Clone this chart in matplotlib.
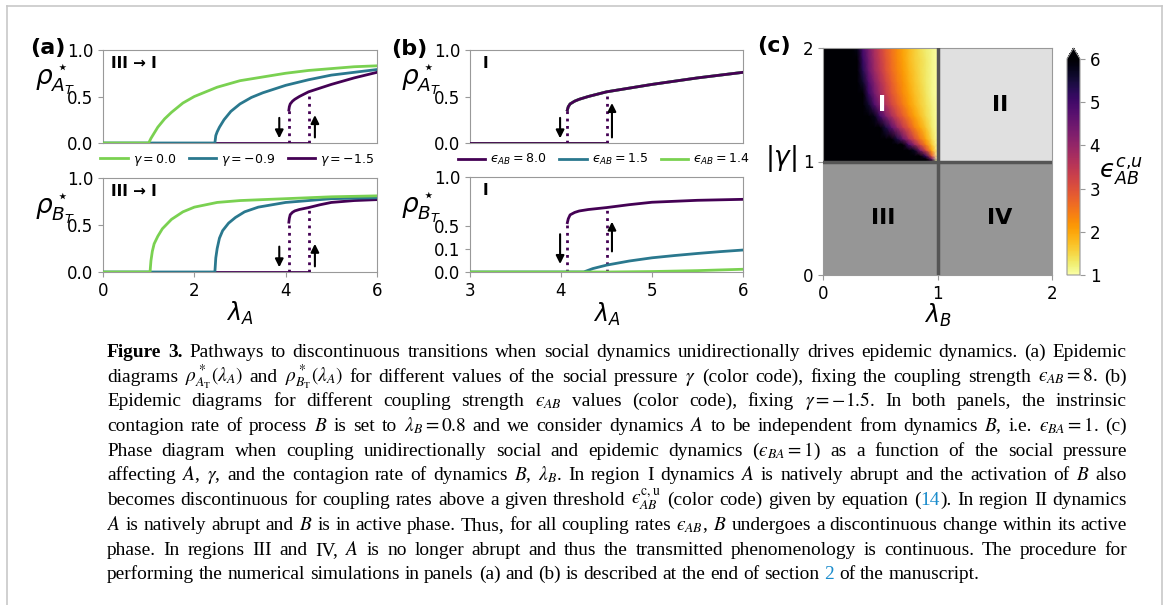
import re
import numpy as np
import matplotlib
matplotlib.use("Agg")
import matplotlib.pyplot as plt
from matplotlib.lines import Line2D

# ---- data ----
# (a) gamma = 0.0 and gamma = -0.9, eps_AB = 8
lamA_g0 = [0, 1.0, 1.05, 1.1, 1.2, 1.35, 1.5, 1.75, 2.0, 2.5, 3.0, 3.5, 4.0, 4.5, 5.0, 5.5, 6.0]
rhoA_g0 = [0, 0, 0.05, 0.09, 0.17, 0.26, 0.33, 0.43, 0.50, 0.60, 0.67, 0.71, 0.75, 0.78, 0.80, 0.82, 0.83]
lamB_g0 = [0, 1.03, 1.05, 1.08, 1.12, 1.2, 1.3, 1.5, 1.75, 2.0, 2.5, 3.0, 4.0, 5.0, 6.0]
rhoB_g0 = [0, 0, 0.12, 0.22, 0.30, 0.38, 0.46, 0.56, 0.64, 0.69, 0.74, 0.76, 0.78, 0.80, 0.81]

lamA_g09 = [0, 2.45, 2.47, 2.5, 2.55, 2.65, 2.8, 3.0, 3.25, 3.5, 4.0, 4.5, 5.0, 5.5, 6.0]
rhoA_g09 = [0, 0, 0.08, 0.12, 0.17, 0.25, 0.34, 0.42, 0.49, 0.54, 0.62, 0.68, 0.73, 0.76, 0.79]
lamB_g09 = [0, 2.45, 2.47, 2.5, 2.55, 2.62, 2.75, 2.9, 3.1, 3.4, 4.0, 4.5, 5.0, 6.0]
rhoB_g09 = [0, 0, 0.15, 0.25, 0.36, 0.44, 0.52, 0.58, 0.64, 0.69, 0.74, 0.76, 0.78, 0.79]

# gamma = -1.5, eps_AB = 8 (shared by (a) and (b)); lower and upper branch
lam_low = [0, 4.5]
rho_low = [0, 0]
lam_up = [4.07, 4.08, 4.1, 4.15, 4.2, 4.3, 4.5, 4.75, 5.0, 5.5, 6.0]
rhoA_up = [0.355, 0.39, 0.42, 0.45, 0.47, 0.50, 0.55, 0.59, 0.63, 0.70, 0.76]
rhoB_up = [0.53, 0.57, 0.61, 0.635, 0.65, 0.665, 0.685, 0.715, 0.74, 0.76, 0.77]

# (b) eps_AB = 1.5 and 1.4, gamma = -1.5
lam_e15 = [3.0, 4.25, 4.35, 4.5, 4.75, 5.0, 5.25, 5.5, 5.75, 6.0]
rhoB_e15 = [0, 0, 0.015, 0.03, 0.048, 0.062, 0.072, 0.081, 0.089, 0.096]
lam_e14 = [3.0, 4.5, 5.0, 5.5, 6.0]
rhoB_e14 = [0, 0, 0.002, 0.006, 0.012]

# (c) threshold eps_AB^{c,u} in region I (values > 6 shown black)
lamB_c = 1.0
gamma_c = 1.0
lamB_grid = [0, 0.05, 0.1, 0.15, 0.2, 0.25, 0.3, 0.35, 0.4, 0.45, 0.5,
             0.55, 0.6, 0.65, 0.7, 0.75, 0.8, 0.85, 0.9, 0.95, 1.0]
gamma_grid = [1.0, 1.025, 1.05, 1.1, 1.15, 1.2, 1.3, 1.4, 1.5, 1.6, 1.7, 1.8, 1.9, 2.0]
eps_rows = [
    [7] * 20 + [1.0],
    [7] * 19 + [4.5, 1.0],
    [7] * 18 + [5.1, 2.95, 1.0],
    [7] * 16 + [5.7, 4.35, 3.1, 2.0, 1.0],
    [7] * 14 + [6.0, 4.9, 3.95, 3.1, 2.35, 1.65, 1.0],
    [7] * 12 + [6.4, 5.4, 4.55, 3.75, 3.1, 2.5, 1.95, 1.45, 1.0],
    [7] * 10 + [6.4, 5.45, 4.7, 4.0, 3.4, 2.9, 2.4, 2.0, 1.65, 1.3, 1.0],
    [7] * 8 + [6.8, 5.8, 5.0, 4.3, 3.75, 3.2, 2.8, 2.4, 2.05, 1.75, 1.45, 1.25, 1.0],
    [7] * 7 + [6.6, 5.6, 4.85, 4.2, 3.65, 3.2, 2.8, 2.45, 2.1, 1.85, 1.6, 1.4, 1.2, 1.0],
    [7] * 7 + [6.0, 5.1, 4.4, 3.85, 3.35, 2.95, 2.6, 2.25, 2.0, 1.75, 1.55, 1.35, 1.15, 1.0],
    [7] * 6 + [6.6, 5.6, 4.8, 4.2, 3.65, 3.2, 2.8, 2.45, 2.2, 1.9, 1.7, 1.5, 1.3, 1.15, 1.0],
    [7] * 6 + [6.2, 5.3, 4.5, 3.9, 3.45, 3.0, 2.65, 2.35, 2.1, 1.85, 1.65, 1.45, 1.3, 1.15, 1.0],
    [7] * 6 + [6.0, 5.1, 4.4, 3.8, 3.35, 2.95, 2.6, 2.3, 2.05, 1.8, 1.6, 1.45, 1.3, 1.15, 1.0],
    [7] * 5 + [6.9, 5.8, 4.9, 4.3, 3.7, 3.25, 2.85, 2.55, 2.25, 2.0, 1.8, 1.6, 1.4, 1.25, 1.15, 1.0],
]

caption_lines = [
    r"**Figure** **3.** Pathways to discontinuous transitions when social dynamics unidirectionally drives epidemic dynamics. (a) Epidemic",
    r"diagrams $\rho^*_{A_\mathrm{T}}(\lambda_A)$ and $\rho^*_{B_\mathrm{T}}(\lambda_A)$ for different values of the social pressure $\gamma$ (color code), fixing the coupling strength $ϵ_{AB}=8$. (b)",
    r"Epidemic diagrams for different coupling strength $ϵ_{AB}$ values (color code), fixing $\gamma=-1.5$. In both panels, the instrinsic",
    r"contagion rate of process $B$ is set to $\lambda_B=0.8$ and we consider dynamics $A$ to be independent from dynamics $B$, i.e. $ϵ_{BA}=1$. (c)",
    r"Phase diagram when coupling unidirectionally social and epidemic dynamics ($ϵ_{BA}=1$) as a function of the social pressure",
    r"affecting $A$, $\gamma$, and the contagion rate of dynamics $B$, $\lambda_B$. In region I dynamics $A$ is natively abrupt and the activation of $B$ also",
    r"becomes discontinuous for coupling rates above a given threshold $ϵ_{AB}^{\mathrm{c,u}}$ (color code) given by equation ({{14}}). In region II dynamics",
    r"$A$ is natively abrupt and $B$ is in active phase. Thus, for all coupling rates $ϵ_{AB}$, $B$ undergoes a discontinuous change within its active",
    r"phase. In regions III and IV, $A$ is no longer abrupt and thus the transmitted phenomenology is continuous. The procedure for",
    r"performing the numerical simulations in panels (a) and (b) is described at the end of section {{2}} of the manuscript.",
]

GREEN = "#7ad151"
TEAL = "#2a788e"
PURPLE = "#440154"
LINK = "#1a8ccc"
W, H = 1167, 605


def box(l, t, r, b):
    return [l / W, 1 - b / H, (r - l) / W, (b - t) / H]


def style(ax):
    for s in ax.spines.values():
        s.set_color("0.6")
    ax.tick_params(color="0.6", labelsize=12)


def branch(ax, lam_up_, rho_up_):
    ax.plot(lam_low, rho_low, color=PURPLE, lw=2, zorder=3)
    ax.plot(lam_up_, rho_up_, color=PURPLE, lw=2, zorder=3)
    ax.plot([lam_up_[0]] * 2, [0, rho_up_[0]], ls=":", color=PURPLE, lw=2, zorder=3)
    i = lam_up_.index(lam_low[-1])
    ax.plot([lam_low[-1]] * 2, [0, rho_up_[i]], ls=":", color=PURPLE, lw=2, zorder=3)


def arrow(ax, x, y0, y1):
    ax.annotate("", xy=(x, y1), xytext=(x, y0),
                arrowprops=dict(arrowstyle="-|>", color="k", lw=1.5,
                                mutation_scale=12, shrinkA=0, shrinkB=0))


fig = plt.figure(figsize=(W / 100, H / 100), dpi=100)

# ---------------- panel (a) ----------------
ax1 = fig.add_axes(box(103, 50, 377, 143))
ax2 = fig.add_axes(box(103, 178, 377, 272))
for ax, (xg, yg), (xt, yt), rup, lab in [
    (ax1, (lamA_g0, rhoA_g0), (lamA_g09, rhoA_g09), rhoA_up, r"$\rho^\star_{A_T}$"),
    (ax2, (lamB_g0, rhoB_g0), (lamB_g09, rhoB_g09), rhoB_up, r"$\rho^\star_{B_T}$"),
]:
    ax.plot(xg, yg, color=GREEN, lw=2, zorder=3.2, label=r"$\gamma=0.0$")
    ax.plot(xt, yt, color=TEAL, lw=2, zorder=3.1, label=r"$\gamma=-0.9$")
    branch(ax, lam_up, rup)
    ax.lines[2].set_label(r"$\gamma=-1.5$")
    arrow(ax, 3.86, 0.27, 0.05)
    arrow(ax, 4.64, 0.06, 0.30)
    ax.set_xlim(0, 6)
    ax.set_ylim(0, 1)
    ax.set_yticks([0, 0.5, 1.0])
    ax.set_ylabel(lab, rotation=0, fontsize=19, ha="center", va="center")
    ax.yaxis.set_label_coords(-0.175, 0.68)
    ax.text(0.03, 0.86, "III → I", transform=ax.transAxes, fontsize=11,
            fontweight="bold", va="center")
    style(ax)
ax1.tick_params(bottom=False, labelbottom=False)
ax2.set_xticks([0, 2, 4, 6])
ax2.set_xlabel(r"$\lambda_A$", fontsize=17)
ax2.xaxis.set_label_coords(0.5, -0.30)
ax1.legend(loc="center", bbox_to_anchor=(0.49, -0.18), ncol=3, frameon=False,
           fontsize=9, handlelength=2.2, columnspacing=1.0, handletextpad=0.4,
           borderaxespad=0)

# ---------------- panel (b) ----------------
ax3 = fig.add_axes(box(470, 50, 743, 143))
ax4 = fig.add_axes(box(470, 177, 743, 272))

ax3.plot(lam_low, rho_low, color=PURPLE, lw=2, zorder=3, label=r"$ϵ_{AB}=8.0$")
ax3.plot(lam_up, rhoA_up, color=PURPLE, lw=2, zorder=3)
ax3.plot(lam_low, rho_low, color=TEAL, lw=2, zorder=2, label=r"$ϵ_{AB}=1.5$")
ax3.plot(lam_up, rhoA_up, color=TEAL, lw=2, zorder=2)
ax3.plot(lam_low, rho_low, color=GREEN, lw=2, zorder=2, label=r"$ϵ_{AB}=1.4$")
ax3.plot(lam_up, rhoA_up, color=GREEN, lw=2, zorder=2)
ax3.plot([lam_up[0]] * 2, [0, rhoA_up[0]], ls=":", color=PURPLE, lw=2, zorder=3)
i45 = lam_up.index(lam_low[-1])
ax3.plot([lam_low[-1]] * 2, [0, rhoA_up[i45]], ls=":", color=PURPLE, lw=2, zorder=3)
arrow(ax3, 3.99, 0.27, 0.05)
arrow(ax3, 4.56, 0.06, 0.43)

branch(ax4, lam_up, rhoB_up)
ax4.plot(lam_e15, rhoB_e15, color=TEAL, lw=2, zorder=3.1)
ax4.plot(lam_e14, rhoB_e14, color=GREEN, lw=2, zorder=3.2)
arrow(ax4, 3.99, 0.165, 0.035)
arrow(ax4, 4.56, 0.09, 0.54)


def fwd(y):
    return np.interp(y, [0, 0.2, 0.5, 1.0], [0, 0.482, 0.489, 1.0])


def inv(y):
    return np.interp(y, [0, 0.482, 0.489, 1.0], [0, 0.2, 0.5, 1.0])


ax4.set_yscale("function", functions=(fwd, inv))
for ax, lab in [(ax3, r"$\rho^\star_{A_T}$"), (ax4, r"$\rho^\star_{B_T}$")]:
    ax.set_xlim(3, 6)
    ax.set_ylim(0, 1)
    ax.set_ylabel(lab, rotation=0, fontsize=19, ha="center", va="center")
    ax.yaxis.set_label_coords(-0.18, 0.68)
    ax.text(0.045, 0.86, "I", transform=ax.transAxes, fontsize=11,
            fontweight="bold", va="center")
    style(ax)
ax3.set_yticks([0, 0.5, 1.0])
ax4.set_yticks([0, 0.1, 0.5, 1.0])
ax4.set_yticklabels(["0.0", "0.1", "0.5", "1.0"])
ax4.yaxis.set_minor_locator(matplotlib.ticker.NullLocator())
ax3.tick_params(bottom=False, labelbottom=False)
ax4.set_xticks([3, 4, 5, 6])
ax4.set_xlabel(r"$\lambda_A$", fontsize=17)
ax4.xaxis.set_label_coords(0.5, -0.30)
h, l = ax3.get_legend_handles_labels()
ax3.legend(h, l, loc="center", bbox_to_anchor=(0.49, -0.18), ncol=3, frameon=False,
           fontsize=9, handlelength=2.2, columnspacing=1.0, handletextpad=0.4,
           borderaxespad=0)

# ---------------- panel (c) ----------------
ax5 = fig.add_axes(box(823, 48, 1052, 275))
eps = np.array(eps_rows, dtype=float)
im = ax5.pcolormesh(lamB_grid, gamma_grid, eps, cmap="inferno_r", vmin=1, vmax=6,
                    shading="gouraud", zorder=1)
ax5.fill_between([lamB_c, 2], gamma_c, 2, color="#e0e0e0", zorder=2, lw=0)
ax5.fill_between([0, 2], 0, gamma_c, color="#969696", zorder=2, lw=0)
ax5.axvline(lamB_c, color="#555555", lw=2.5, zorder=3)
ax5.axhline(gamma_c, color="#555555", lw=2.5, zorder=3)
ax5.set_xlim(0, 2)
ax5.set_ylim(0, 2)
ax5.set_xticks([0, 1, 2])
ax5.set_yticks([0, 1, 2])
for x, y, s, c in [(0.52, 1.5, "I", "w"), (1.55, 1.5, "II", "k"),
                   (0.53, 0.5, "III", "k"), (1.54, 0.5, "IV", "k")]:
    ax5.text(x, y, s, color=c, fontsize=16, fontweight="bold",
             ha="center", va="center", zorder=4)
ax5.set_ylabel(r"$|\gamma|$", rotation=0, fontsize=19, ha="center", va="center")
ax5.yaxis.set_label_coords(-0.185, 0.515)
ax5.set_xlabel(r"$\lambda_B$", fontsize=17)
ax5.xaxis.set_label_coords(0.5, -0.12)
style(ax5)

cax = fig.add_axes(box(1067, 48, 1080, 275))
cb = fig.colorbar(im, cax=cax, extend="max", ticks=[1, 2, 3, 4, 5, 6])
cb.outline.set_edgecolor("0.6")
cax.tick_params(labelsize=12, color="0.6")
fig.text(1121 / W, 1 - 172 / H, r"$ϵ_{AB}^{c{,}u}$", fontsize=18,
         ha="center", va="center")

# panel letters
for x, y, s in [(48, 48, "(a)"), (409, 49, "(b)"), (774, 46, "(c)")]:
    fig.text(x / W, 1 - y / H, s, fontsize=16, fontweight="bold",
             ha="center", va="center")

# frame around the figure block
for xs, ys in [([7, 7], [6, 620]), ([7, 1162], [6, 6]), ([1162, 1162], [6, 620])]:
    fig.add_artist(Line2D([x / W for x in xs], [1 - y / H for y in ys],
                          color="#c8c8c8", lw=1.2, transform=fig.transFigure))

# ---------------- caption (justified) ----------------
renderer = fig.canvas.get_renderer()
BASE_SIZE = 12.0
CAP_FONT = "Liberation Serif"


def split_words(line):
    out, cur, inmath = [], "", False
    for ch in line:
        if ch == "$":
            inmath = not inmath
        if ch == " " and not inmath:
            if cur:
                out.append(cur)
            cur = ""
        else:
            cur += ch
    if cur:
        out.append(cur)
    return out


def word_pieces(w):
    weight = "normal"
    if w.startswith("**") and w.endswith("**"):
        w = w[2:-2]
        weight = "bold"
    pieces = []
    for part in re.split(r"(\{\{.*?\}\})", w):
        if not part:
            continue
        if part.startswith("{{"):
            pieces.append((part[2:-2], LINK, weight))
        else:
            pieces.append((part, "k", weight))
    return pieces


def make_text(s, color, weight, size):
    return fig.text(0, 0, s, fontsize=size, family=CAP_FONT, color=color,
                    fontweight=weight, math_fontfamily="stix", va="baseline")


def width(t):
    return t.get_window_extent(renderer).width


def space_width(size):
    t = make_text("a a", "k", "normal", size)
    t2 = make_text("aa", "k", "normal", size)
    w = width(t) - width(t2)
    t.remove()
    t2.remove()
    return w


x_left, x_right = 107, 1127
base0, step = 357, 24.7
lines = [[[make_text(*p, BASE_SIZE) for p in word_pieces(w)] for w in split_words(ln)]
         for ln in caption_lines]

# pick the size that makes the tightest justified line fit with normal spaces
sp = space_width(BASE_SIZE)
ratios = []
for words in lines[:-1]:
    nat = sum(width(o) for objs in words for o in objs) + sp * (len(words) - 1)
    ratios.append((x_right - x_left) / nat)
cap_size = BASE_SIZE * min(ratios) * 0.995
for words in lines:
    for objs in words:
        for o in objs:
            o.set_fontsize(cap_size)
sp = space_width(cap_size)

for k, words in enumerate(lines):
    widths = [[width(o) for o in objs] for objs in words]
    total = sum(sum(ws) for ws in widths)
    if k < len(lines) - 1:
        gap = (x_right - x_left - total) / (len(words) - 1)
    else:
        gap = sp
    x = x_left
    y = 1 - (base0 + k * step) / H
    for objs, ws in zip(words, widths):
        for o, wd in zip(objs, ws):
            o.set_position((x / W, y))
            x += wd
        x += gap

fig.savefig("out.png", dpi=100)
